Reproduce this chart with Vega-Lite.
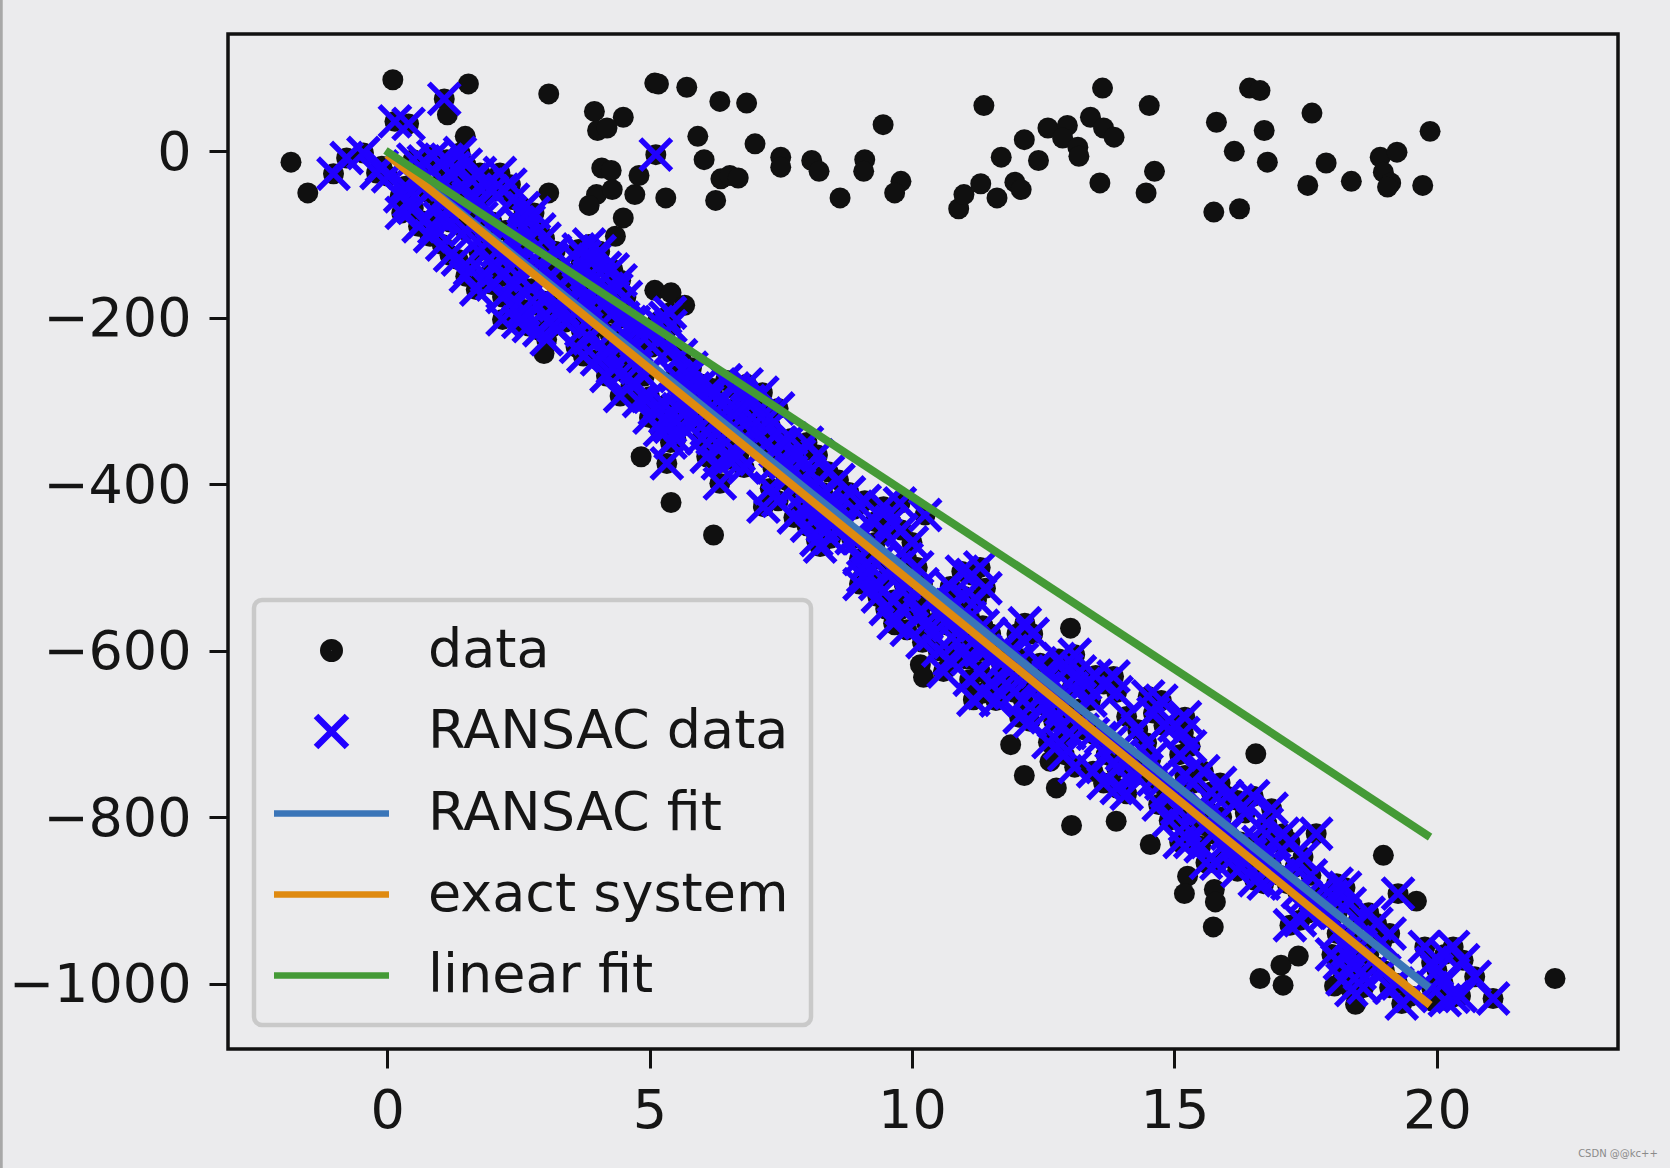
{"$schema":"https://vega.github.io/schema/vega-lite/v6.json","autosize":"none","padding":{"left":228,"top":34,"right":52,"bottom":119},"width":1390,"height":1015,"background":"#ebebed","view":{"stroke":"#111111","strokeWidth":3.5,"fill":"#ebebed"},
"config":{"font":"DejaVu Sans","legend":{"strokeWidth":4.5}},
"datasets":{
"outliers":[{"x":-1.83,"y":-13},{"x":-1.51,"y":-50},{"x":0.11,"y":86},{"x":1.55,"y":81},{"x":1.15,"y":44},{"x":1.49,"y":18},{"x":3.08,"y":69},{"x":3.08,"y":-50},{"x":3.95,"y":48},{"x":4.5,"y":41},{"x":4.01,"y":25},{"x":4.19,"y":28},{"x":4.09,"y":-20},{"x":4.27,"y":-23},{"x":3.99,"y":-52},{"x":4.29,"y":-46},{"x":3.85,"y":-65},{"x":4.72,"y":-52},{"x":4.8,"y":-29},{"x":4.5,"y":-80},{"x":4.35,"y":-102},{"x":5.1,"y":82},{"x":5.17,"y":81},{"x":5.71,"y":77},{"x":6.34,"y":60},{"x":6.85,"y":58},{"x":5.92,"y":18},{"x":6.04,"y":-10},{"x":5.31,"y":-56},{"x":6.26,"y":-59},{"x":6.36,"y":-33},{"x":6.53,"y":-29},{"x":6.69,"y":-32},{"x":7.01,"y":9},{"x":7.5,"y":-7},{"x":7.5,"y":-19},{"x":8.09,"y":-11},{"x":8.23,"y":-24},{"x":8.63,"y":-56},{"x":9.1,"y":-10},{"x":9.08,"y":-24},{"x":9.45,"y":32},{"x":9.79,"y":-36},{"x":9.67,"y":-50},{"x":11.37,"y":55},{"x":10.89,"y":-69},{"x":10.99,"y":-52},{"x":11.31,"y":-39},{"x":11.62,"y":-56},{"x":11.7,"y":-7},{"x":11.96,"y":-37},{"x":12.08,"y":-46},{"x":12.14,"y":14},{"x":12.41,"y":-11},{"x":12.59,"y":28},{"x":12.96,"y":31},{"x":12.87,"y":16},{"x":13.16,"y":5},{"x":13.18,"y":-6},{"x":13.4,"y":41},{"x":13.65,"y":28},{"x":13.85,"y":17},{"x":13.63,"y":76},{"x":13.58,"y":-38},{"x":14.52,"y":55},{"x":14.62,"y":-24},{"x":14.46,"y":-50},{"x":15.8,"y":35},{"x":16.14,"y":0},{"x":15.75,"y":-73},{"x":16.24,"y":-69},{"x":16.43,"y":76},{"x":16.63,"y":73},{"x":16.71,"y":25},{"x":16.77,"y":-13},{"x":17.54,"y":-41},{"x":17.62,"y":46},{"x":17.89,"y":-14},{"x":18.37,"y":-36},{"x":18.92,"y":-7},{"x":19.24,"y":-1},{"x":18.98,"y":-25},{"x":19.12,"y":-38},{"x":19.06,"y":-43},{"x":19.73,"y":-41},{"x":19.87,"y":24},{"x":5.1,"y":-167},{"x":5.41,"y":-170},{"x":5.67,"y":-185},{"x":4.84,"y":-367},{"x":5.41,"y":-422},{"x":6.22,"y":-461},{"x":2.99,"y":-243},{"x":13.02,"y":-573},{"x":10.16,"y":-617},{"x":10.22,"y":-632},{"x":11.88,"y":-713},{"x":12.14,"y":-750},{"x":12.75,"y":-765},{"x":12.63,"y":-733},{"x":13.04,"y":-810},{"x":13.89,"y":-805},{"x":14.54,"y":-833},{"x":16.55,"y":-724},{"x":18.98,"y":-846},{"x":19.61,"y":-901},{"x":15.25,"y":-871},{"x":15.19,"y":-892},{"x":15.76,"y":-887},{"x":15.78,"y":-902},{"x":15.74,"y":-932},{"x":16.63,"y":-994},{"x":17.03,"y":-978},{"x":17.07,"y":-1002},{"x":17.36,"y":-967},{"x":18.05,"y":-1003},{"x":18.45,"y":-1025},{"x":22.25,"y":-994},{"x":19.91,"y":-1021},{"x":11.19,"y":-656},{"x":9.67,"y":-569}],
"inliers":[{"x":-1.02,"y":-27},{"x":-0.77,"y":-8},{"x":-0.45,"y":-2},{"x":-0.2,"y":-26},{"x":-0.1,"y":-18},{"x":0.02,"y":-30},{"x":0.15,"y":36},{"x":0.41,"y":33},{"x":1.09,"y":63},{"x":5.12,"y":-4},{"x":0.25,"y":-54},{"x":0.35,"y":-42},{"x":0.42,"y":-60},{"x":0.5,"y":-68},{"x":0.28,"y":-74},{"x":0.82,"y":-102},{"x":0.6,"y":-90},{"x":0.7,"y":-84},{"x":0.9,"y":-92},{"x":1.05,"y":-112},{"x":1.2,"y":-125},{"x":1.58,"y":-142},{"x":1.7,"y":-166},{"x":1.35,"y":-130},{"x":1.5,"y":-150},{"x":1.9,"y":-150},{"x":0.5,"y":-10},{"x":0.7,"y":-12},{"x":0.88,"y":-6},{"x":1.0,"y":-14},{"x":1.14,"y":-10},{"x":1.28,"y":-20},{"x":1.39,"y":-2},{"x":1.5,"y":-16},{"x":1.25,"y":-30},{"x":1.05,"y":-35},{"x":1.77,"y":-26},{"x":1.6,"y":-34},{"x":1.9,"y":-40},{"x":2.15,"y":-26},{"x":2.0,"y":-48},{"x":2.2,"y":-46},{"x":2.35,"y":-40},{"x":2.4,"y":-58},{"x":2.6,"y":-68},{"x":2.8,"y":-74},{"x":2.9,"y":-94},{"x":2.7,"y":-84},{"x":3.0,"y":-105},{"x":2.0,"y":-160},{"x":2.2,"y":-175},{"x":2.4,"y":-180},{"x":2.6,"y":-190},{"x":2.2,"y":-202},{"x":3.04,"y":-226},{"x":3.17,"y":-210},{"x":2.5,"y":-205},{"x":2.7,"y":-210},{"x":2.9,"y":-215},{"x":2.85,"y":-185},{"x":1.75,"y":-120},{"x":1.9,"y":-110},{"x":2.1,"y":-120},{"x":2.3,"y":-125},{"x":2.5,"y":-150},{"x":2.75,"y":-165},{"x":3.0,"y":-180},{"x":3.2,"y":-185},{"x":3.3,"y":-160},{"x":3.5,"y":-175},{"x":3.6,"y":-195},{"x":3.4,"y":-205},{"x":3.7,"y":-215},{"x":3.85,"y":-225},{"x":3.6,"y":-235},{"x":3.74,"y":-246},{"x":4.18,"y":-270},{"x":4.44,"y":-294},{"x":4.0,"y":-250},{"x":4.3,"y":-260},{"x":4.2,"y":-240},{"x":4.5,"y":-265},{"x":4.65,"y":-280},{"x":4.4,"y":-230},{"x":4.55,"y":-245},{"x":4.75,"y":-260},{"x":4.9,"y":-270},{"x":5.0,"y":-295},{"x":4.8,"y":-300},{"x":5.1,"y":-310},{"x":5.3,"y":-320},{"x":3.77,"y":-126},{"x":3.65,"y":-118},{"x":3.85,"y":-112},{"x":3.95,"y":-130},{"x":4.05,"y":-120},{"x":4.15,"y":-140},{"x":3.85,"y":-150},{"x":3.7,"y":-135},{"x":4.3,"y":-142},{"x":4.45,"y":-155},{"x":4.37,"y":-166},{"x":4.2,"y":-165},{"x":4.55,"y":-175},{"x":4.1,"y":-185},{"x":4.3,"y":-195},{"x":4.5,"y":-200},{"x":4.7,"y":-205},{"x":4.9,"y":-215},{"x":5.15,"y":-205},{"x":5.3,"y":-200},{"x":5.39,"y":-194},{"x":5.4,"y":-210},{"x":5.2,"y":-225},{"x":5.05,"y":-235},{"x":5.35,"y":-240},{"x":5.6,"y":-245},{"x":5.8,"y":-260},{"x":5.5,"y":-270},{"x":5.7,"y":-285},{"x":6.0,"y":-280},{"x":5.9,"y":-300},{"x":5.33,"y":-375},{"x":5.4,"y":-350},{"x":5.39,"y":-331},{"x":5.5,"y":-345},{"x":5.2,"y":-335},{"x":5.0,"y":-320},{"x":5.6,"y":-330},{"x":5.3,"y":-305},{"x":5.55,"y":-310},{"x":5.75,"y":-310},{"x":5.9,"y":-325},{"x":6.09,"y":-367},{"x":6.34,"y":-399},{"x":6.3,"y":-375},{"x":6.2,"y":-345},{"x":6.5,"y":-370},{"x":6.45,"y":-350},{"x":6.7,"y":-365},{"x":6.0,"y":-345},{"x":6.15,"y":-320},{"x":6.4,"y":-330},{"x":6.3,"y":-300},{"x":6.5,"y":-310},{"x":6.6,"y":-330},{"x":6.8,"y":-345},{"x":6.2,"y":-285},{"x":6.45,"y":-275},{"x":6.6,"y":-285},{"x":6.75,"y":-295},{"x":6.85,"y":-280},{"x":7.0,"y":-300},{"x":7.15,"y":-290},{"x":6.95,"y":-320},{"x":7.2,"y":-315},{"x":7.45,"y":-309},{"x":7.3,"y":-330},{"x":7.0,"y":-340},{"x":7.17,"y":-427},{"x":7.3,"y":-405},{"x":7.45,"y":-420},{"x":7.6,"y":-395},{"x":7.35,"y":-380},{"x":7.55,"y":-370},{"x":7.7,"y":-385},{"x":7.5,"y":-350},{"x":7.7,"y":-345},{"x":7.85,"y":-365},{"x":8.05,"y":-385},{"x":8.18,"y":-467},{"x":8.0,"y":-450},{"x":7.9,"y":-430},{"x":7.75,"y":-440},{"x":8.1,"y":-430},{"x":8.3,"y":-450},{"x":8.45,"y":-465},{"x":8.25,"y":-475},{"x":8.5,"y":-440},{"x":8.6,"y":-425},{"x":8.3,"y":-410},{"x":8.1,"y":-405},{"x":8.4,"y":-385},{"x":8.6,"y":-395},{"x":8.2,"y":-365},{"x":8.0,"y":-350},{"x":8.8,"y":-410},{"x":8.9,"y":-430},{"x":9.14,"y":-507},{"x":9.0,"y":-520},{"x":9.3,"y":-520},{"x":9.07,"y":-511},{"x":9.0,"y":-490},{"x":9.2,"y":-475},{"x":9.4,"y":-490},{"x":9.5,"y":-460},{"x":9.3,"y":-445},{"x":9.1,"y":-420},{"x":9.46,"y":-427},{"x":9.77,"y":-423},{"x":9.6,"y":-445},{"x":9.8,"y":-455},{"x":10.0,"y":-470},{"x":10.25,"y":-437},{"x":9.9,"y":-490},{"x":10.1,"y":-500},{"x":10.2,"y":-520},{"x":9.65,"y":-539},{"x":9.65,"y":-567},{"x":9.5,"y":-550},{"x":9.8,"y":-550},{"x":10.0,"y":-540},{"x":10.15,"y":-555},{"x":10.28,"y":-567},{"x":10.4,"y":-580},{"x":9.9,"y":-575},{"x":10.2,"y":-590},{"x":10.5,"y":-600},{"x":10.72,"y":-611},{"x":10.85,"y":-590},{"x":10.6,"y":-625},{"x":11.17,"y":-659},{"x":11.36,"y":-651},{"x":11.1,"y":-635},{"x":11.3,"y":-625},{"x":11.5,"y":-640},{"x":11.6,"y":-660},{"x":11.05,"y":-610},{"x":11.4,"y":-600},{"x":10.73,"y":-523},{"x":10.95,"y":-505},{"x":11.14,"y":-509},{"x":11.3,"y":-500},{"x":11.0,"y":-535},{"x":11.23,"y":-539},{"x":11.4,"y":-525},{"x":10.85,"y":-545},{"x":11.1,"y":-560},{"x":11.35,"y":-570},{"x":11.5,"y":-580},{"x":12.15,"y":-567},{"x":12.0,"y":-580},{"x":12.3,"y":-580},{"x":11.9,"y":-600},{"x":12.1,"y":-610},{"x":12.44,"y":-615},{"x":12.12,"y":-659},{"x":12.3,"y":-640},{"x":11.85,"y":-625},{"x":12.05,"y":-680},{"x":12.25,"y":-685},{"x":12.5,"y":-665},{"x":12.7,"y":-685},{"x":12.82,"y":-711},{"x":13.0,"y":-699},{"x":12.6,"y":-710},{"x":12.9,"y":-725},{"x":13.1,"y":-740},{"x":12.75,"y":-655},{"x":12.6,"y":-630},{"x":12.95,"y":-623},{"x":12.8,"y":-610},{"x":13.1,"y":-605},{"x":13.2,"y":-625},{"x":13.05,"y":-645},{"x":13.3,"y":-640},{"x":13.5,"y":-630},{"x":13.84,"y":-631},{"x":13.65,"y":-640},{"x":13.9,"y":-650},{"x":13.4,"y":-660},{"x":13.2,"y":-670},{"x":13.65,"y":-759},{"x":13.45,"y":-745},{"x":13.9,"y":-741},{"x":13.7,"y":-725},{"x":14.09,"y":-772},{"x":13.9,"y":-765},{"x":14.25,"y":-750},{"x":14.47,"y":-711},{"x":14.3,"y":-695},{"x":14.09,"y":-679},{"x":14.6,"y":-675},{"x":14.75,"y":-660},{"x":14.5,"y":-655},{"x":14.8,"y":-690},{"x":14.55,"y":-730},{"x":15.17,"y":-699},{"x":15.0,"y":-690},{"x":15.3,"y":-715},{"x":15.1,"y":-725},{"x":15.2,"y":-680},{"x":14.9,"y":-804},{"x":14.7,"y":-785},{"x":15.05,"y":-790},{"x":15.2,"y":-810},{"x":14.85,"y":-770},{"x":15.3,"y":-830},{"x":15.5,"y":-835},{"x":15.1,"y":-830},{"x":15.36,"y":-759},{"x":15.2,"y":-750},{"x":15.55,"y":-745},{"x":15.7,"y":-770},{"x":15.87,"y":-759},{"x":15.6,"y":-790},{"x":15.9,"y":-800},{"x":15.8,"y":-856},{"x":15.6,"y":-855},{"x":16.0,"y":-840},{"x":16.2,"y":-865},{"x":16.53,"y":-876},{"x":16.35,"y":-855},{"x":16.7,"y":-880},{"x":16.1,"y":-850},{"x":16.2,"y":-780},{"x":16.0,"y":-775},{"x":16.35,"y":-795},{"x":16.5,"y":-775},{"x":16.76,"y":-808},{"x":16.6,"y":-830},{"x":17.07,"y":-820},{"x":16.85,"y":-790},{"x":17.2,"y":-830},{"x":16.9,"y":-830},{"x":17.45,"y":-848},{"x":17.3,"y":-860},{"x":17.6,"y":-870},{"x":17.39,"y":-924},{"x":17.2,"y":-930},{"x":17.55,"y":-915},{"x":17.7,"y":-820},{"x":17.7,"y":-895},{"x":18.09,"y":-880},{"x":18.0,"y":-895},{"x":18.25,"y":-885},{"x":18.34,"y":-904},{"x":18.1,"y":-915},{"x":18.5,"y":-925},{"x":18.85,"y":-928},{"x":18.7,"y":-915},{"x":19.1,"y":-940},{"x":18.95,"y":-950},{"x":19.26,"y":-892},{"x":18.15,"y":-976},{"x":18.0,"y":-965},{"x":18.3,"y":-960},{"x":18.37,"y":-1008},{"x":18.2,"y":-995},{"x":18.53,"y":-988},{"x":18.4,"y":-975},{"x":18.6,"y":-1005},{"x":19.33,"y":-1024},{"x":19.1,"y":-1005},{"x":19.5,"y":-1015},{"x":19.25,"y":-1000},{"x":19.77,"y":-956},{"x":19.9,"y":-975},{"x":20.31,"y":-956},{"x":20.5,"y":-972},{"x":20.72,"y":-992},{"x":20,"y":-984},{"x":20.15,"y":-965},{"x":20.12,"y":-1000},{"x":20.31,"y":-1016},{"x":20.15,"y":-1020},{"x":20.45,"y":-1015},{"x":21.07,"y":-1018},{"x":0.6,"y":-40},{"x":0.8,"y":-50},{"x":1.0,"y":-60},{"x":1.2,"y":-55},{"x":1.4,"y":-75},{"x":1.5,"y":-95},{"x":1.65,"y":-85},{"x":1.8,"y":-80},{"x":1.85,"y":-100},{"x":1.2,"y":-85},{"x":1.0,"y":-80},{"x":1.55,"y":-55},{"x":1.75,"y":-60},{"x":2.0,"y":-85},{"x":2.05,"y":-135},{"x":2.25,"y":-95},{"x":2.4,"y":-110},{"x":2.55,"y":-125},{"x":2.2,"y":-150},{"x":2.45,"y":-160},{"x":2.7,"y":-135},{"x":2.9,"y":-135},{"x":3.1,"y":-150},{"x":2.6,"y":-105},{"x":3.15,"y":-130},{"x":3.3,"y":-140},{"x":3.35,"y":-190},{"x":3.1,"y":-205},{"x":3.5,"y":-150},{"x":3.65,"y":-165},{"x":3.8,"y":-180},{"x":3.95,"y":-195},{"x":4.05,"y":-210},{"x":4.25,"y":-220},{"x":3.95,"y":-165},{"x":4.6,"y":-225},{"x":4.75,"y":-235},{"x":2.5,"y":-85},{"x":3.2,"y":-120},{"x":5.75,"y":-270},{"x":6.05,"y":-315},{"x":6.25,"y":-325},{"x":5.85,"y":-285},{"x":6.1,"y":-300},{"x":6.65,"y":-310},{"x":6.9,"y":-300},{"x":7.1,"y":-360},{"x":7.25,"y":-350},{"x":7.4,"y":-360},{"x":7.6,"y":-375},{"x":6.8,"y":-380},{"x":5.6,"y":-300},{"x":7.75,"y":-405},{"x":7.95,"y":-410},{"x":8.15,"y":-420},{"x":8.35,"y":-430},{"x":7.85,"y":-400},{"x":8.55,"y":-455},{"x":8.7,"y":-450},{"x":8.85,"y":-465},{"x":8.4,"y":-420},{"x":9.0,"y":-465},{"x":9.15,"y":-495},{"x":9.3,"y":-470},{"x":9.55,"y":-510},{"x":9.7,"y":-500},{"x":9.85,"y":-520},{"x":9.35,"y":-535},{"x":10.35,"y":-540},{"x":10.55,"y":-560},{"x":10.7,"y":-570},{"x":10.9,"y":-575},{"x":10.75,"y":-545},{"x":11.15,"y":-590},{"x":11.3,"y":-600},{"x":11.55,"y":-605},{"x":11.7,"y":-615},{"x":11.8,"y":-640},{"x":11.95,"y":-650},{"x":12.2,"y":-625},{"x":12.45,"y":-640},{"x":12.55,"y":-650},{"x":12.65,"y":-670},{"x":12.85,"y":-670},{"x":13.0,"y":-680},{"x":13.25,"y":-695},{"x":13.45,"y":-700},{"x":13.6,"y":-705},{"x":13.8,"y":-710},{"x":14.0,"y":-725},{"x":14.2,"y":-730},{"x":14.4,"y":-745},{"x":14.6,"y":-755},{"x":14.75,"y":-760},{"x":15.0,"y":-770},{"x":15.4,"y":-790},{"x":15.55,"y":-810},{"x":15.75,"y":-820},{"x":16.0,"y":-820},{"x":16.25,"y":-830},{"x":16.45,"y":-845},{"x":16.65,"y":-855},{"x":16.85,"y":-860},{"x":17.0,"y":-870},{"x":17.15,"y":-880},{"x":17.35,"y":-890},{"x":17.5,"y":-895},{"x":17.9,"y":-915},{"x":18.1,"y":-940},{"x":18.3,"y":-945},{"x":18.55,"y":-955},{"x":18.7,"y":-965},{"x":18.85,"y":-980},{"x":19.0,"y":-985},{"x":19.9,"y":-1005}]
},
"encoding":{
"x":{"field":"x","type":"quantitative","scale":{"domain":[-3.03,23.45],"nice":false,"zero":false},"axis":{"values":[0,5,10,15,20],"format":"d","grid":false,"domain":false,"title":null,"tickSize":19,"tickWidth":3,"tickColor":"#111111","labelFont":"DejaVu Sans","labelFontSize":54,"labelColor":"#151515","labelPadding":16,"labelFlush":false,"labelOverlap":false}},
"y":{"field":"y","type":"quantitative","scale":{"domain":[-1078.7,141],"nice":false,"zero":false},"axis":{"values":[0,-200,-400,-600,-800,-1000],"format":"d","grid":false,"domain":false,"title":null,"tickSize":19,"tickWidth":3,"tickColor":"#111111","labelFont":"DejaVu Sans","labelFontSize":54,"labelColor":"#151515","labelPadding":18,"labelLimit":400,"labelOffset":2,"labelOverlap":false}}
},
"layer":[
{"data":{"values":[{"x":-7.35,"y":182,"y2":-1222}]},"mark":{"type":"rule","stroke":"#a8a8a8","strokeWidth":3,"clip":false},"encoding":{"y2":{"field":"y2"}}},
{"data":{"name":"outliers"},"mark":{"type":"point","filled":true,"shape":"circle","size":440,"color":"#101010","opacity":1}},
{"data":{"name":"inliers"},"mark":{"type":"point","filled":true,"shape":"circle","size":440,"color":"#101010","opacity":1}},
{"data":{"name":"inliers"},"mark":{"type":"point","filled":false,"shape":"M-1,-1L1,1M-1,1L1,-1","size":960,"stroke":"#2000ff","strokeWidth":5.5,"opacity":1}},
{"data":{"values":[{"series":"RANSAC fit","x":0,"y":-3},{"series":"RANSAC fit","x":19.85,"y":-1005}]},"mark":{"type":"line","stroke":"#3a75b8","strokeWidth":8}},
{"data":{"values":[{"series":"exact system","x":0,"y":-4},{"series":"exact system","x":19.87,"y":-1026}]},"mark":{"type":"line","stroke":"#df8a10","strokeWidth":8}},
{"data":{"values":[{"series":"linear fit","x":-0.03,"y":1},{"series":"linear fit","x":19.87,"y":-824}]},"mark":{"type":"line","stroke":"#449a36","strokeWidth":8}},
{"data":{"values":[{"series":"data","x":null,"y":null},{"series":"RANSAC data","x":null,"y":null},{"series":"RANSAC fit","x":null,"y":null},{"series":"exact system","x":null,"y":null},{"series":"linear fit","x":null,"y":null}]},"mark":{"type":"point","filled":false},
"encoding":{
"color":{"field":"series","type":"nominal","scale":{"domain":["data","RANSAC data","RANSAC fit","exact system","linear fit"],"range":["#101010","#2000ff","#3a75b8","#df8a10","#449a36"]},"legend":{"title":null,"orient":"none","legendX":26,"legendY":566,"fillColor":"#ebebed","strokeColor":"#c9c9c9","cornerRadius":8,"padding":22,"rowPadding":25,"symbolSize":2500,"symbolStrokeWidth":6.5,"symbolOffset":27,"labelOffset":68,"labelFont":"DejaVu Sans","labelFontSize":54,"labelColor":"#151515","labelLimit":600,"symbolOpacity":1}},
"shape":{"field":"series","type":"nominal","scale":{"domain":["data","RANSAC data","RANSAC fit","exact system","linear fit"],"range":["M-0.33,0A0.33,0.33 0 1,1 0.33,0A0.33,0.33 0 1,1 -0.33,0ZM-0.12,0A0.12,0.12 0 1,1 0.12,0A0.12,0.12 0 1,1 -0.12,0Z","M-0.62,-0.62L0.62,0.62M-0.62,0.62L0.62,-0.62","M-2.3,0L2.3,0","M-2.3,0L2.3,0","M-2.3,0L2.3,0"]}}
}},
{"data":{"values":[{"x":23.45,"y":-1205,"label":"CSDN @@kc++"}]},"mark":{"type":"text","fontSize":10,"color":"#8a8a8a","font":"DejaVu Sans","clip":false},"encoding":{"text":{"field":"label"}}}
]}
